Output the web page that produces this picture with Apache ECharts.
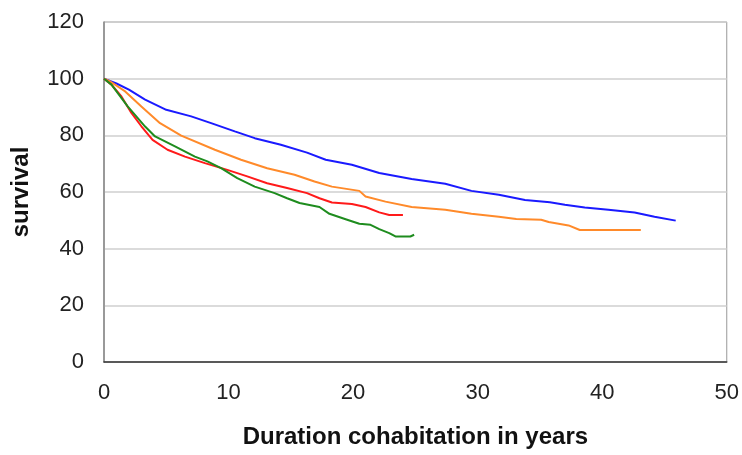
<!DOCTYPE html>
<html>
<head>
<meta charset="utf-8">
<script src="https://cdn.jsdelivr.net/npm/echarts/dist/echarts.min.js"></script>
<style>
  html, body { margin: 0; padding: 0; background: #fff; }
  #chart { width: 742px; height: 455px; }
</style>
</head>
<body>
<div id="chart"></div>
<script>
var blueYears = [0, 1, 2, 3.3, 5, 7, 8.6, 10.5, 12.1, 14.2, 16.3, 17.8, 19.9, 22.1, 24.7, 27.4, 29.5, 31.7, 33.8, 35.8, 37, 38.6, 40.5, 42.6, 44.2, 45.9];
var blueSurvival = [100, 98.3, 96.1, 92.6, 89, 86.7, 84.3, 81.4, 79, 76.7, 73.9, 71.4, 69.6, 66.7, 64.6, 62.9, 60.4, 59, 57.2, 56.4, 55.5, 54.5, 53.7, 52.8, 51.3, 49.9];

var orangeYears = [0, 0.5, 1.7, 3, 4.5, 6.2, 8.9, 11, 13.1, 15.3, 16.9, 18.3, 20.5, 21, 22.6, 24.7, 27.4, 29.5, 31.7, 33.1, 35.1, 35.7, 37.3, 38.2, 43.1];
var orangeSurvival = [100, 99, 95.5, 90.2, 84.3, 79.9, 74.9, 71.4, 68.4, 66.1, 63.7, 61.9, 60.4, 58.4, 56.6, 54.7, 53.7, 52.3, 51.3, 50.5, 50.2, 49.4, 48.2, 46.6, 46.6];

var redYears = [0, 0.6, 1.4, 2.2, 3, 3.9, 5.1, 6.5, 8.1, 9.9, 11.5, 13.1, 14.7, 16.3, 17.3, 18.3, 19.9, 21, 22.1, 22.9, 24];
var redSurvival = [100, 97.9, 93.7, 87.9, 83.2, 78.4, 74.9, 72.5, 70.2, 67.8, 65.5, 63.1, 61.4, 59.6, 57.8, 56.3, 55.8, 54.7, 52.8, 51.9, 51.9];

var greenYears = [0, 0.6, 1.9, 3.3, 4.1, 5.7, 7.3, 8.3, 9.4, 10.7, 12.1, 13.7, 14.7, 15.7, 17.3, 18.1, 19.4, 20.5, 21.4, 22.1, 22.9, 23.4, 24.6, 24.9];
var greenSurvival = [100, 97.9, 90.2, 83.1, 79.6, 76.1, 72.5, 70.8, 68.4, 64.9, 61.9, 59.6, 57.8, 56.1, 54.7, 52.3, 50.4, 48.8, 48.4, 46.9, 45.5, 44.3, 44.3, 44.9];

function pairs(xs, ys) {
  var out = [];
  for (var i = 0; i < xs.length; i++) out.push([xs[i], ys[i]]);
  return out;
}

function curve(name, color, xs, ys) {
  return {
    name: name,
    type: 'line',
    symbol: 'none',
    smooth: false,
    lineStyle: { color: color, width: 2 },
    data: pairs(xs, ys)
  };
}

var labelFont = { fontFamily: 'Liberation Sans', fontSize: 22, color: '#222' };
var titleFont = { fontFamily: 'Liberation Sans', fontSize: 24, fontWeight: 'bold', color: '#111' };

var option = {
  animation: false,
  grid: {
    left: 104, right: 13, top: 22, bottom: 93,
    show: true, borderColor: '#999', borderWidth: 1
  },
  xAxis: {
    type: 'value',
    min: 0, max: 50, interval: 10,
    name: 'Duration cohabitation in years',
    nameLocation: 'middle',
    nameGap: 63,
    nameTextStyle: titleFont,
    axisLine: { lineStyle: { color: '#333', width: 1.5 } },
    axisTick: { show: false },
    axisLabel: Object.assign({ margin: 20 }, labelFont),
    splitLine: { show: false }
  },
  yAxis: {
    type: 'value',
    min: 0, max: 120, interval: 20,
    name: 'survival',
    nameLocation: 'middle',
    nameGap: 71,
    nameTextStyle: titleFont,
    axisLine: { show: true, lineStyle: { color: '#888', width: 1.5 } },
    axisTick: { show: false },
    axisLabel: Object.assign({ margin: 20 }, labelFont),
    splitLine: { lineStyle: { color: '#cfcfcf', width: 1.5 } }
  },
  series: [
    curve('blue', '#1a1aff', blueYears, blueSurvival),
    curve('orange', '#ff8a2a', orangeYears, orangeSurvival),
    curve('red', '#ff1a1a', redYears, redSurvival),
    curve('green', '#1e8c1e', greenYears, greenSurvival)
  ]
};

var myChart = echarts.init(document.getElementById('chart'));
myChart.setOption(option);
</script>
</body>
</html>
